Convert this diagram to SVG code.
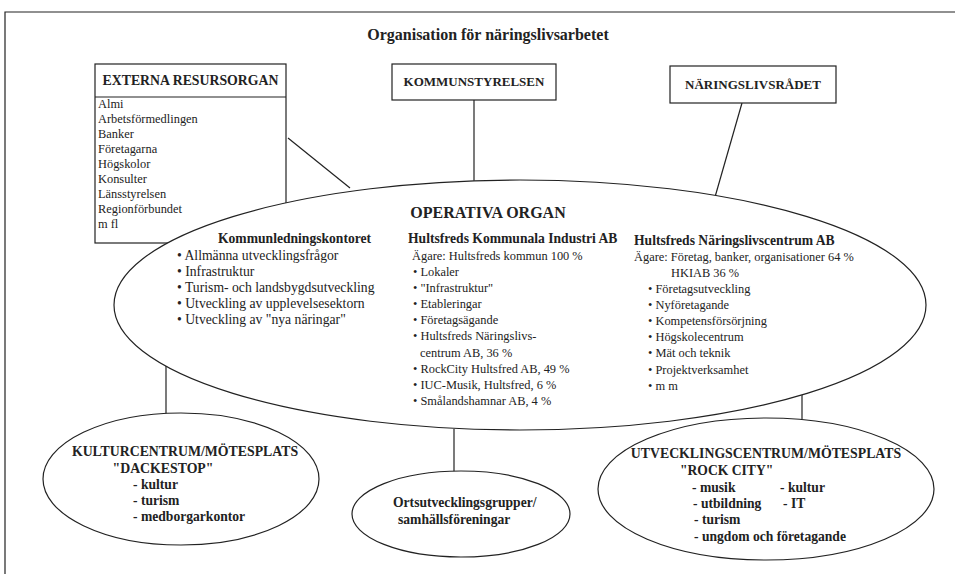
<svg xmlns="http://www.w3.org/2000/svg" width="955" height="574" viewBox="0 0 955 574">
<style>
text{font-family:"Liberation Serif","Times New Roman",serif;fill:#222}
.t{font-size:16px;font-weight:bold;text-anchor:middle}
.h{font-size:13px;font-weight:bold;text-anchor:middle}
.h14{font-size:13.8px;font-weight:bold;text-anchor:middle}
.hb{font-size:13.6px;font-weight:bold}
.n{font-size:13.7px}
.s{font-size:12.4px}
.b{font-size:13.6px;font-weight:bold}
.shape{fill:#fff;stroke:#222;stroke-width:1.2}
.ln{stroke:#222;stroke-width:1.2;fill:none}
</style>
<rect width="955" height="574" fill="#fff"/>
<path class="ln" d="M5,574 V12 H955" stroke-width="2"/>
<text class="t" x="488" y="40">Organisation för näringslivsarbetet</text>

<g id="connectors">
<line class="ln" x1="288" y1="138" x2="350" y2="188"/>
<line class="ln" x1="474" y1="100" x2="474" y2="182"/>
<line class="ln" x1="742" y1="103" x2="715" y2="197"/>
<line class="ln" x1="166" y1="366" x2="166" y2="414"/>
<line class="ln" x1="454" y1="429" x2="454" y2="472"/>
<line class="ln" x1="802" y1="395" x2="802" y2="419"/>
</g>

<g id="externa">
<rect class="shape" x="95" y="64" width="191" height="179"/>
<line class="ln" x1="95" y1="97" x2="286" y2="97"/>
<text class="h14" x="190.5" y="85">EXTERNA RESURSORGAN</text>
<text class="s" x="98" y="108">Almi</text>
<text class="s" x="98" y="123">Arbetsförmedlingen</text>
<text class="s" x="98" y="138">Banker</text>
<text class="s" x="98" y="153">Företagarna</text>
<text class="s" x="98" y="168">Högskolor</text>
<text class="s" x="98" y="183">Konsulter</text>
<text class="s" x="98" y="198">Länsstyrelsen</text>
<text class="s" x="98" y="213">Regionförbundet</text>
<text class="s" x="98" y="228">m fl</text>
</g>

<g id="kommunstyrelsen">
<rect class="shape" x="392" y="64" width="164" height="36"/>
<text class="h" x="474" y="86">KOMMUNSTYRELSEN</text>
</g>

<g id="naringslivsradet">
<rect class="shape" x="670" y="66" width="166" height="37"/>
<text class="h" x="753" y="89">NÄRINGSLIVSRÅDET</text>
</g>

<g id="operativa">
<ellipse class="shape" cx="520" cy="305" rx="406" ry="125"/>
<text class="t" x="488" y="218">OPERATIVA ORGAN</text>
<text class="hb" x="218" y="243">Kommunledningskontoret</text>
<text class="n" x="177" y="260">• Allmänna utvecklingsfrågor</text>
<text class="n" x="177" y="276">• Infrastruktur</text>
<text class="n" x="177" y="292">• Turism- och landsbygdsutveckling</text>
<text class="n" x="177" y="308">• Utveckling av upplevelsesektorn</text>
<text class="n" x="177" y="324">• Utveckling av "nya näringar"</text>

<text class="hb" x="408" y="243">Hultsfreds Kommunala Industri AB</text>
<text class="s" x="412" y="260">Ägare: Hultsfreds kommun 100 %</text>
<text class="s" x="413" y="276">• Lokaler</text>
<text class="s" x="413" y="292">• "Infrastruktur"</text>
<text class="s" x="413" y="308">• Etableringar</text>
<text class="s" x="413" y="324">• Företagsägande</text>
<text class="s" x="413" y="340">• Hultsfreds Näringslivs-</text>
<text class="s" x="420" y="357">centrum AB, 36 %</text>
<text class="s" x="413" y="373">• RockCity Hultsfred AB, 49 %</text>
<text class="s" x="413" y="389">• IUC-Musik, Hultsfred, 6 %</text>
<text class="s" x="413" y="405">• Smålandshamnar AB, 4 %</text>

<text class="hb" x="634" y="245">Hultsfreds Näringslivscentrum AB</text>
<text class="s" x="634" y="261">Ägare: Företag, banker, organisationer 64 %</text>
<text class="s" x="671" y="277">HKIAB 36 %</text>
<text class="s" x="648" y="293">• Företagsutveckling</text>
<text class="s" x="648" y="309">• Nyföretagande</text>
<text class="s" x="648" y="325">• Kompetensförsörjning</text>
<text class="s" x="648" y="341">• Högskolecentrum</text>
<text class="s" x="648" y="357">• Mät och teknik</text>
<text class="s" x="648" y="374">• Projektverksamhet</text>
<text class="s" x="648" y="390">• m m</text>
</g>

<g id="kulturcentrum">
<ellipse class="shape" cx="181" cy="479" rx="138" ry="66"/>
<text class="h14" x="185" y="456">KULTURCENTRUM/MÖTESPLATS</text>
<text class="h14" x="163" y="473">"DACKESTOP"</text>
<text class="b" x="133" y="489">- kultur</text>
<text class="b" x="133" y="505">- turism</text>
<text class="b" x="133" y="521">- medborgarkontor</text>
</g>

<g id="ortsutveckling">
<ellipse class="shape" cx="461" cy="514" rx="109" ry="43"/>
<text class="b" x="393" y="507">Ortsutvecklingsgrupper/</text>
<text class="b" x="398" y="524">samhällsföreningar</text>
</g>

<g id="rockcity">
<ellipse class="shape" cx="766" cy="489" rx="168" ry="71"/>
<text class="h14" x="766" y="458">UTVECKLINGSCENTRUM/MÖTESPLATS</text>
<text class="b" x="680" y="475">"ROCK CITY"</text>
<text class="b" x="692" y="492">-  musik</text>
<text class="b" x="780" y="492">- kultur</text>
<text class="b" x="693" y="508">- utbildning</text>
<text class="b" x="783" y="508">- IT</text>
<text class="b" x="694" y="524">- turism</text>
<text class="b" x="694" y="541">- ungdom och företagande</text>
</g>
</svg>
